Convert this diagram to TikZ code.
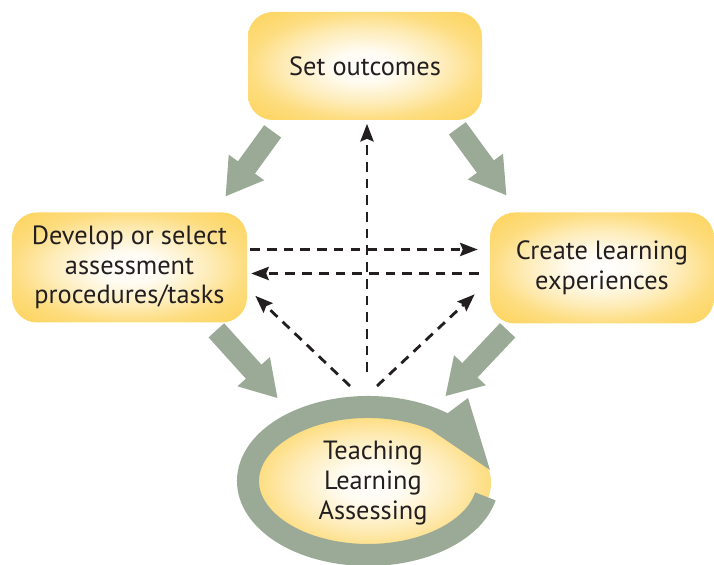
\documentclass[tikz,border=0pt]{standalone}
\usepackage{fontspec}
\setmainfont{PT Sans}
\usetikzlibrary{arrows.meta,shapes.geometric}

\definecolor{boxgold}{RGB}{253,213,98}
\definecolor{sage}{RGB}{155,170,150}
\definecolor{ink}{RGB}{35,31,32}
\pgfdeclareradialshading{glow}{\pgfpoint{0bp}{0bp}}{color(0bp)=(white);
  color(7bp)=(white!92!boxgold); color(17bp)=(white!55!boxgold);
  color(25bp)=(white!18!boxgold); color(33bp)=(boxgold); color(50bp)=(boxgold)}

\begin{document}
\begin{tikzpicture}[line cap=butt,line join=miter,
  goal/.style={rounded corners=0.5cm,shading=glow,align=center,text=ink,
    font=\fontsize{15}{16.8}\selectfont},
  bigarrow/.style={sage,line width=0.42cm,-{Triangle[length=0.72cm,width=0.82cm]}},
  dasharrow/.style={ink,line width=1.6pt,dash pattern=on 5.5pt off 4pt,
    -{Stealth[length=10pt,width=7.5pt,inset=1.5pt]}}]
  \useasboundingbox (0,0) rectangle (14.28,11.30);
  % the four stages
  \node[goal,minimum width=4.68cm,minimum height=2.16cm] (set) at (7.30,9.98) {Set outcomes};
  \node[goal,minimum width=4.70cm,minimum height=2.20cm] (develop) at (2.59,5.95)
    {Develop or select\\assessment\\procedures/tasks};
  \node[goal,minimum width=4.48cm,minimum height=2.22cm] (create) at (12.04,5.94)
    {Create learning\\experiences};
  \node[ellipse,shading=glow,minimum width=4.72cm,minimum height=2.52cm,align=center,
    text=ink,font=\fontsize{15}{17}\selectfont] (tla) at (7.46,1.64)
    {Teaching\\Learning\\Assessing};
  % cycle round the middle
  \coordinate (ring) at (7.36,1.68);
  \draw[sage,line width=0.44cm] ([shift={(-12:2.40 and 1.48)}]ring)
    arc[start angle=-12,end angle=-310,x radius=2.40,y radius=1.48];
  \fill[sage] (8.56,2.74) -- (9.80,1.90) -- (9.36,3.34) -- cycle;
  % main flow
  \draw[bigarrow] ([shift={(0.50,-0.22)}]set.south west) -- ([shift={(-0.44,0.31)}]develop.north east);
  \draw[bigarrow] ([shift={(-0.50,-0.16)}]set.south east) -- ([shift={(0.34,0.33)}]create.north west);
  \draw[bigarrow] ([shift={(-0.62,-0.15)}]develop.south east) -- ([shift={(-0.23,0.73)}]tla.north west);
  \draw[bigarrow] ([shift={(0.36,-0.13)}]create.south west) -- ([shift={(-0.23,0.77)}]tla.north east);
  % feedback links
  \coordinate (hubL) at (7.00,3.58);
  \coordinate (hubM) at (7.34,3.86);
  \coordinate (hubR) at (7.54,3.58);
  \draw[dasharrow,shorten >=2pt] (hubM) -- (hubM |- set.south);
  \draw[dasharrow] (hubL) -- ([shift={(0.16,0.54)}]develop.south east);
  \draw[dasharrow] (hubR) -- ([shift={(-0.30,0.59)}]create.south west);
  \draw[dasharrow,shorten <=1.7pt,shorten >=6.8pt] ([yshift=3.6mm]develop.east)
    -- ([yshift=3.6mm]develop.east -| create.west);
  \draw[dasharrow,shorten <=6.2pt,shorten >=2.2pt] ([yshift=-1.2mm]develop.east -| create.west)
    -- ([yshift=-1.2mm]develop.east);
\end{tikzpicture}
\end{document}
